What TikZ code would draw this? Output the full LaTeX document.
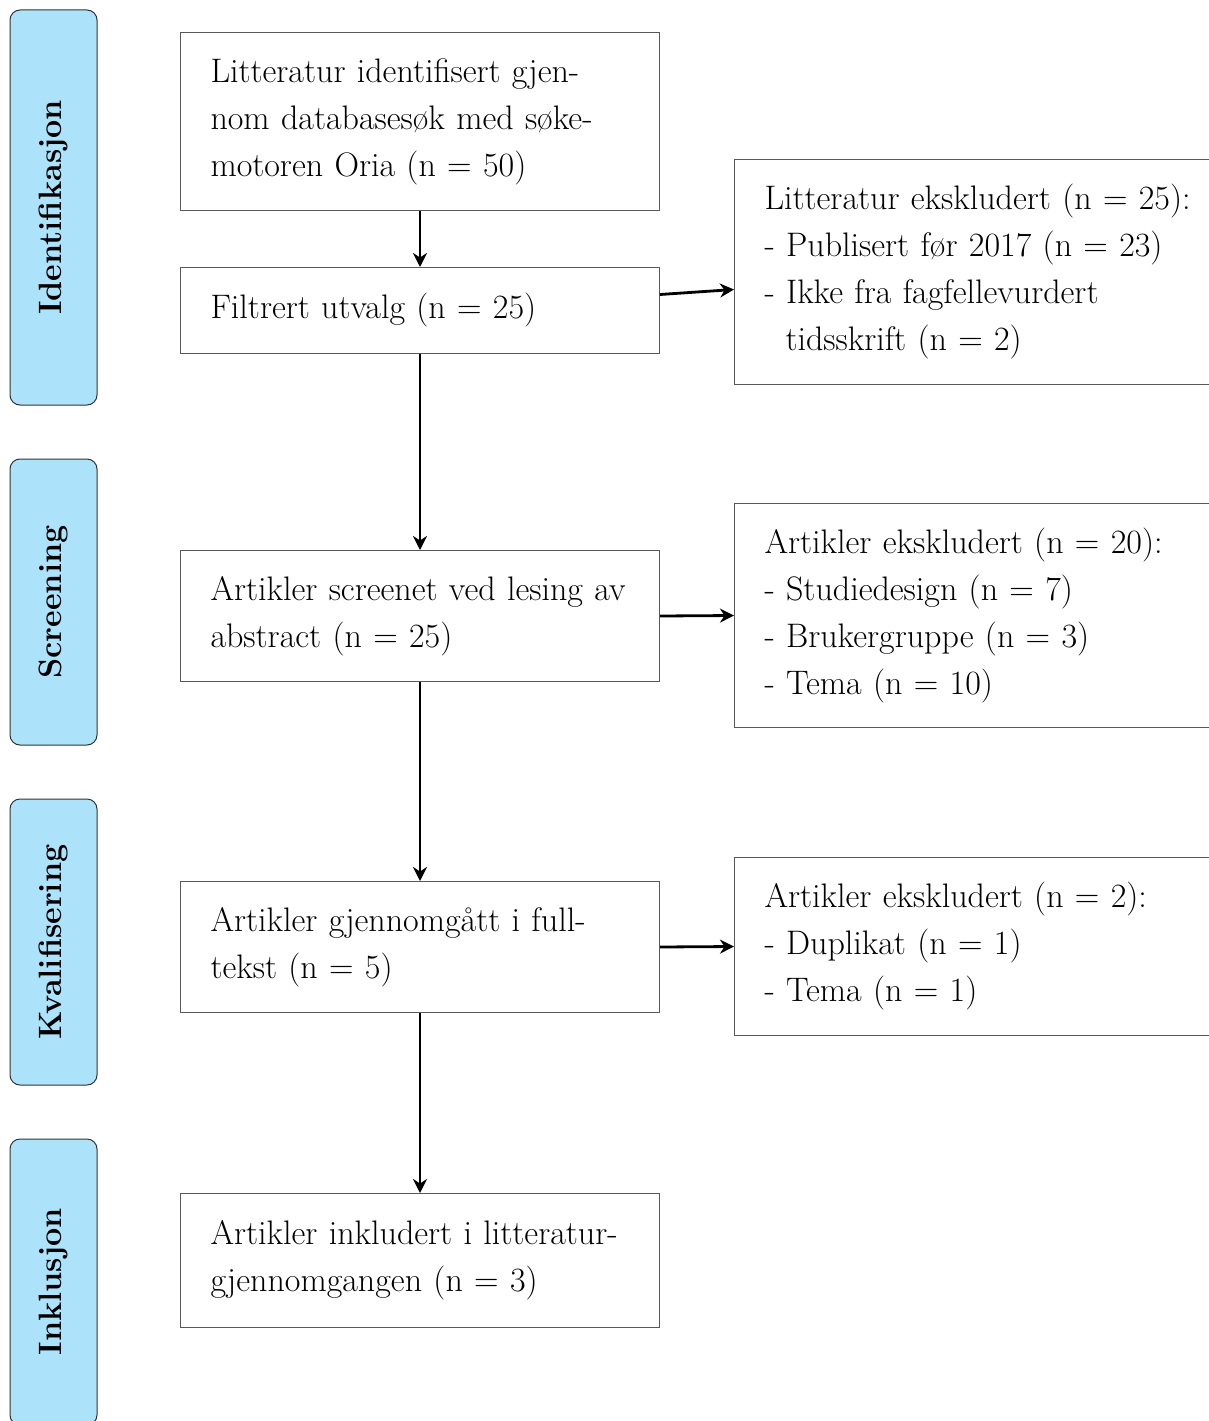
\documentclass[tikz,border=0pt]{standalone}
\usetikzlibrary{arrows.meta}
\definecolor{stagefill}{RGB}{172,226,250}
\begin{document}
\begin{tikzpicture}[x=1pt,y=-1pt,
  box/.style={draw=black!65, line width=1pt, rectangle, anchor=north west,
    minimum width=479pt, inner xsep=30pt, inner ysep=0pt, text width=419pt, align=left,
    font=\fontsize{34}{47}\selectfont},
  wbox/.style={box, text width=470pt},
  stage/.style={draw=black!80, fill=stagefill, line width=1pt, rounded corners=10pt,
    rotate=90, minimum height=87pt, inner sep=0pt, font=\fontsize{32.3}{37}\selectfont\bfseries},
  arr/.style={-{Stealth[length=14pt,width=14pt,inset=4.5pt]}, line width=2.8pt}
]
\useasboundingbox (0,0) rectangle (1209,1421);
% stages
\node[stage, minimum width=395pt] (s1) at (53.5,207.5) {Identifikasjon};
\node[stage, minimum width=286pt] (s2) at (53.5,602) {Screening};
\node[stage, minimum width=286pt] (s3) at (53.5,942) {Kvalifisering};
\node[stage, minimum width=286pt] (s4) at (53.5,1282) {Inklusjon};
% main boxes
\node[box, minimum height=178pt] (b1) at (180,32) {Litteratur identifisert gjen-\\nom databasesøk med søke-\\motoren Oria (n = 50)};
\node[box, minimum height=86pt] (b2) at (180,267) {Filtrert utvalg (n = 25)};
\node[box, minimum height=131pt] (b3) at (180,550) {Artikler screenet ved lesing av\\abstract (n = 25)};
\node[box, minimum height=131pt] (b4) at (180,881) {Artikler gjennomgått i full-\\tekst (n = 5)};
\node[box, minimum height=134pt] (b5) at (180,1193) {Artikler inkludert i litteratur-\\gjennomgangen (n = 3)};
% right boxes
\node[wbox, minimum height=225pt] (r1) at (734,159) {Litteratur ekskludert (n = 25):\\- Publisert før 2017 (n = 23)\\- Ikke fra fagfellevurdert\\\hspace*{21pt}tidsskrift (n = 2)};
\node[wbox, minimum height=224pt] (r2) at (734,503) {Artikler ekskludert (n = 20):\\- Studiedesign (n = 7)\\- Brukergruppe (n = 3)\\- Tema (n = 10)};
\node[wbox, minimum height=178pt] (r3) at (734,857) {Artikler ekskludert (n = 2):\\- Duplikat (n = 1)\\- Tema (n = 1)};
% arrows
\draw[arr] (b1.south) -- (b2.north);
\draw[arr] (b2.south) -- (b3.north);
\draw[arr] (b3.south) -- (b4.north);
\draw[arr] (b4.south) -- (b5.north);
\draw[arr] ([yshift=16pt]b2.east) -- ([yshift=-17.5pt]r1.west);
\draw[arr] (b3.east) -- (r2.west);
\draw[arr] (b4.east) -- (r3.west);
\end{tikzpicture}
\end{document}
